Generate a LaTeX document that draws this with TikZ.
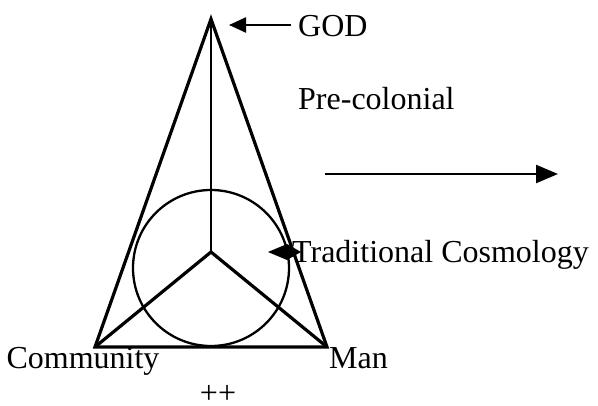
\documentclass[tikz,border=0pt]{standalone}
\usepackage{fontspec}
\setmainfont{Liberation Serif}
\usetikzlibrary{arrows.meta}
\begin{document}
\begin{tikzpicture}[x=1pt,y=-1pt,
  thickline/.style={line width=3.2pt, line join=miter},
  lbl/.style={font=\fontsize{32}{34}\selectfont, inner sep=0pt},
  arr/.style={line width=2.4pt, -{Triangle[length=17pt,width=15pt]}}]
\useasboundingbox (0,0) rectangle (598,406);
\coordinate (apex) at (211,19);
\coordinate (bl) at (95,347);
\coordinate (br) at (327,347);
\coordinate (ctr) at (211,252);
\coordinate (cc) at (211,268);
\draw[thickline] (apex) -- (bl) -- (br) -- cycle;
\draw[line width=2.3pt] (cc) circle[radius=78];
\draw[line width=2.3pt] (apex) -- (ctr);
\draw[thickline] (bl) -- (ctr) -- (br);
\node[lbl, anchor=base west] (god) at (298,37) {GOD};
\coordinate (godtail) at (291,25);
\coordinate (godhead) at (229,25);
\draw[arr] (godtail) -- (godhead);
\node[lbl, anchor=base west] (pre) at (298,110) {Pre-colonial};
\coordinate (lat) at (325,174);
\coordinate (lah) at (558,174);
\draw[line width=2.4pt, -{Triangle[length=22pt,width=18pt]}] (lat) -- (lah);
\node[lbl, anchor=base west] (trad) at (292,263) {Traditional Cosmology};
\fill (268,252) -- (287,244) -- (301,252) -- (287,260) -- cycle;
\node[lbl, anchor=base] (comm) at (83,369) {Community};
\node[lbl, anchor=base west] (man) at (329,369) {Man};
\node[lbl, anchor=base] (pp) at (218,404) {++};
\end{tikzpicture}
\end{document}
